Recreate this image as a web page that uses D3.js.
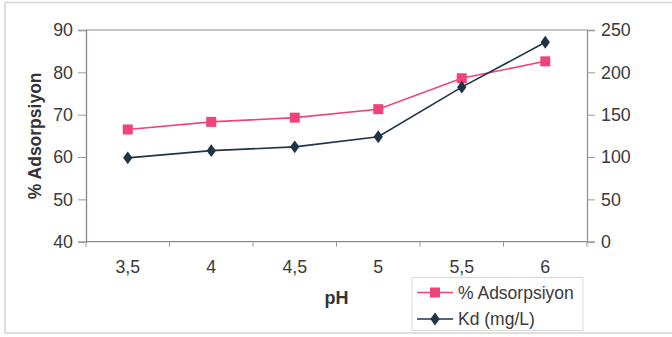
<!DOCTYPE html>
<html><head><meta charset="utf-8">
<script src="https://cdn.jsdelivr.net/npm/d3@7"></script>
<style>body{margin:0;background:#fff}svg{display:block}text{font-family:Arial,"Liberation Sans",sans-serif}</style>
</head><body><svg id="c" width="672" height="337"></svg>
<script>
const categories = ["3,5","4","4,5","5","5,5","6"];
const adsorpsiyon = [66.5, 68.3, 69.3, 71.3, 78.6, 82.6];
const kd = [99, 107.5, 112, 124, 182.5, 235.5];
const leftTicks = [40,50,60,70,80,90];
const rightTicks = [0,50,100,150,200,250];

const svg = d3.select("#c");
const L=86, R=587, T=30, B=241.7;
const FS=17.8;
svg.append("rect").attr("x",5).attr("y",2.5).attr("width",680).attr("height",330.5)
  .attr("fill","none").attr("stroke","#d4d4d4").attr("stroke-width",1.5);

const x = d3.scaleBand().domain(categories).range([L,R]);
const yL = d3.scaleLinear().domain([40,90]).range([B,T]);
const yR = d3.scaleLinear().domain([0,250]).range([B,T]);

svg.append("line").attr("x1",L).attr("x2",R).attr("y1",T).attr("y2",T).attr("stroke","#8c8c8c").attr("stroke-width",1.2);

const txtCol="#3a3a3a";
const gl = svg.append("g").attr("transform",`translate(${L},0)`)
  .call(d3.axisLeft(yL).tickValues(leftTicks).tickSize(8).tickPadding(5));
gl.select(".domain").attr("stroke","#8a7f98").attr("stroke-width",1.3);
gl.selectAll(".tick line").attr("stroke","#999");
gl.selectAll("text").style("font-size",FS+"px").attr("fill",txtCol);

const gr = svg.append("g").attr("transform",`translate(${R},0)`)
  .call(d3.axisRight(yR).tickValues(rightTicks).tickSize(8).tickPadding(6));
gr.select(".domain").attr("stroke","#8a9494").attr("stroke-width",1.3);
gr.selectAll(".tick line").attr("stroke","#999");
gr.selectAll("text").style("font-size",FS+"px").attr("fill",txtCol);

svg.append("line").attr("x1",L).attr("x2",R).attr("y1",B).attr("y2",B).attr("stroke","#8c8c8c").attr("stroke-width",1.3);
const bounds = categories.map(c=>x(c)).concat([x(categories[categories.length-1])+x.bandwidth()]);
svg.selectAll(".xt").data(bounds).enter().append("line")
  .attr("x1",d=>d).attr("x2",d=>d).attr("y1",B).attr("y2",B+5).attr("stroke","#999");
svg.selectAll(".xl").data(categories).enter().append("text")
  .attr("x",d=>x(d)+x.bandwidth()/2).attr("y",273).attr("text-anchor","middle")
  .style("font-size",FS+"px").attr("fill",txtCol).text(d=>d);

svg.append("text").attr("x",(L+R)/2).attr("y",304).attr("text-anchor","middle")
  .style("font-size","18px").attr("font-weight","bold").attr("fill","#333").text("pH");
svg.append("text").attr("transform",`translate(41,${(T+B)/2}) rotate(-90)`).attr("text-anchor","middle")
  .style("font-size","17.5px").attr("font-weight","bold").attr("fill","#333").text("% Adsorpsiyon");

const pink="#ee4479", navy="#1f3349";
const cx = d=>x(d)+x.bandwidth()/2;
const lineL = d3.line().x((d,i)=>cx(categories[i])).y(d=>yL(d));
const lineR = d3.line().x((d,i)=>cx(categories[i])).y(d=>yR(d));
svg.append("path").attr("d",lineL(adsorpsiyon)).attr("fill","none").attr("stroke",pink).attr("stroke-width",1.6);
svg.append("path").attr("d",lineR(kd)).attr("fill","none").attr("stroke",navy).attr("stroke-width",1.6);
svg.selectAll(".sq").data(adsorpsiyon).enter().append("rect")
  .attr("x",(d,i)=>cx(categories[i])-5).attr("y",d=>yL(d)-5).attr("width",10).attr("height",10).attr("fill",pink);
const diamond = d3.symbol().type(d3.symbolDiamond).size(48);
svg.selectAll(".dm").data(kd).enter().append("path").attr("d",diamond)
  .attr("transform",(d,i)=>`translate(${cx(categories[i])},${yR(d)}) scale(1.25,1)`).attr("fill",navy);

const lg = svg.append("g");
lg.append("rect").attr("x",412).attr("y",277.5).attr("width",171).attr("height",53).attr("fill","#fff").attr("stroke","#d8d8d8").attr("stroke-width",1);
const items=[{t:"% Adsorpsiyon",c:pink,s:"sq",y:292.5},{t:"Kd (mg/L)",c:navy,s:"dm",y:319}];
items.forEach(it=>{
  lg.append("line").attr("x1",417).attr("x2",453).attr("y1",it.y).attr("y2",it.y).attr("stroke",it.c).attr("stroke-width",1.6);
  if(it.s==="sq") lg.append("rect").attr("x",430).attr("y",it.y-5).attr("width",10).attr("height",10).attr("fill",it.c);
  else lg.append("path").attr("d",diamond).attr("transform",`translate(435,${it.y}) scale(1.25,1)`).attr("fill",it.c);
  lg.append("text").attr("x",458).attr("y",it.y+6).style("font-size","17.5px").attr("fill",txtCol).text(it.t);
});
</script></body></html>
